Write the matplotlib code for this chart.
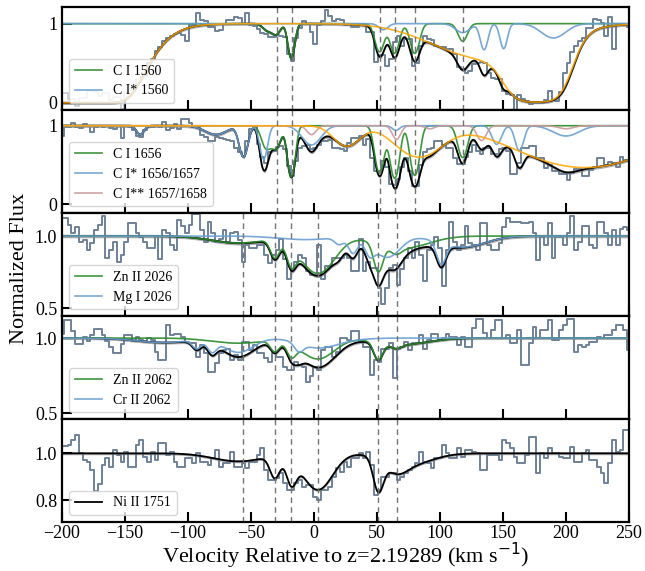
import numpy as np
import matplotlib.pyplot as plt

plt.rcParams['font.family'] = ['Liberation Serif', 'DejaVu Serif']

# velocity grid of the binned spectra (km/s)
v_data = np.arange(-200, 251, 3)

flux_c1560 = [
    0.13, 0.12, 0.05, 0.05, -0.04, 0.06, 0.06, 0.15, 0.15, 0.14,
    0.09, 0.12, 0.12, 0.04, 0.07, 0.07, -0.08, 0.14, 0.16, 0.2,
    0.3, 0.33, 0.35, 0.5, 0.55, 0.66, 0.7, 0.78, 0.82, 0.85,
    0.87, 0.88, 0.86, 0.78, 0.98, 0.98, 1.13, 1.04, 1.03, 0.96,
    0.96, 0.91, 0.92, 1.0, 1.04, 1.05, 1.08, 1.07, 1.0, 1.13,
    0.98, 0.97, 0.93, 0.88, 0.87, 0.83, 0.83, 0.86, 0.84, 0.83,
    0.62, 0.53, 0.82, 0.95, 1.03, 1.0, 0.9, 0.74, 0.98, 1.03,
    1.17, 1.1, 1.03, 1.06, 1.05, 0.98, 1.0, 0.96, 0.96, 0.98,
    0.99, 0.89, 0.89, 0.51, 0.6, 0.6, 0.47, 0.55, 0.77, 0.85,
    0.72, 0.8, 0.8, 0.47, 0.5, 0.72, 0.85, 0.8, 0.79, 0.72,
    0.7, 0.7, 0.68, 0.68, 0.62, 0.45, 0.43, 0.38, 0.4, 0.49,
    0.5, 0.51, 0.5, 0.38, 0.32, 0.3, 0.3, 0.15, 0.11, 0.1,
    -0.09, 0.1, 0.05, 0.02, -0.01, 0.0, 0.0, 0.0, 0.04, 0.15,
    0.03, 0.02, 0.14, 0.38, 0.5, 0.64, 0.72, 0.78, 0.82, 0.94,
    0.94, 1.06, 1.05, 1.01, 0.85, 1.08, 0.68, 0.98, 0.99, 1.0,
    0.96]

flux_c1656 = [
    0.87, 0.98, 0.98, 1.04, 0.98, 0.97, 1.02, 1.0, 0.92, 0.98,
    1.0, 0.99, 1.0, 0.97, 0.96, 1.0, 0.85, 1.0, 0.98, 0.94,
    0.87, 0.86, 0.95, 0.98, 0.98, 1.0, 0.98, 1.05, 0.95, 0.97,
    1.02, 0.96, 1.09, 1.09, 1.04, 0.98, 0.98, 0.88, 0.86, 0.81,
    0.81, 0.86, 0.84, 0.83, 0.82, 0.8, 0.72, 0.66, 0.61, 0.8,
    0.96, 1.0, 0.77, 0.6, 0.53, 0.66, 0.68, 0.73, 0.74, 0.7,
    0.49, 0.36, 0.55, 0.72, 0.74, 0.76, 0.7, 0.72, 0.76, 0.8,
    0.8, 0.82, 0.72, 0.72, 0.7, 0.68, 0.78, 0.85, 0.85, 0.87,
    0.76, 0.83, 0.59, 0.42, 0.42, 0.55, 0.48, 0.26, 0.24, 0.32,
    0.48, 0.59, 0.42, 0.23, 0.23, 0.5, 0.66, 0.7, 0.72, 0.81,
    0.81, 0.76, 0.72, 0.72, 0.59, 0.51, 0.51, 0.6, 0.66, 0.76,
    0.68, 0.64, 0.72, 0.72, 0.64, 0.64, 0.7, 0.72, 0.68, 0.38,
    0.38, 0.53, 0.72, 0.72, 0.74, 0.74, 0.59, 0.59, 0.46, 0.5,
    0.42, 0.42, 0.38, 0.38, 0.31, 0.4, 0.45, 0.45, 0.36, 0.36,
    0.44, 0.48, 0.59, 0.59, 0.5, 0.54, 0.52, 0.48, 0.6, 0.56,
    0.55]

flux_zn2026 = [
    1.125, 1.125, 1.08, 1.02, 1.06, 0.96, 0.975, 0.9, 0.95, 1.04,
    1.08, 1.14, 0.85, 0.9, 0.96, 0.82, 0.87, 0.96, 1.09, 1.09,
    1.02, 0.99, 0.96, 0.92, 0.92, 1.0, 0.84, 1.04, 1.02, 0.94,
    0.905, 1.11, 1.07, 1.02, 1.08, 1.15, 1.15, 1.04, 0.96, 1.1,
    1.02, 0.96, 0.98, 1.04, 0.96, 1.02, 1.03, 0.975, 0.82, 0.94,
    0.92, 0.92, 0.94, 0.94, 0.87, 0.81, 0.87, 0.905, 0.98, 0.84,
    0.7, 0.77, 0.82, 0.87, 0.85, 0.76, 0.73, 0.73, 0.94, 0.7,
    0.79, 0.79, 0.85, 0.85, 0.85, 0.87, 0.85, 0.755, 0.755, 0.98,
    0.76, 0.82, 0.78, 0.78, 0.64, 0.53, 0.64, 0.78, 0.8, 0.66,
    0.77, 0.85, 0.92, 0.85, 0.96, 0.87, 0.685, 0.9, 0.94, 0.99,
    0.92, 0.65, 0.9, 1.1, 0.96, 0.9, 0.94, 1.07, 0.95, 0.94,
    0.9, 1.09, 1.09, 0.94, 0.9, 0.9, 0.95, 1.06, 1.125, 1.1,
    1.1, 1.1, 1.09, 1.09, 1.1, 1.02, 0.836, 0.99, 0.94, 1.09,
    0.85, 0.99, 0.99, 0.94, 1.02, 1.137, 0.9, 0.96, 1.07, 1.07,
    0.94, 0.92, 1.1, 1.1, 1.02, 0.94, 1.04, 0.94, 1.05, 1.06,
    1.04]

flux_zn2062 = [
    1.03, 1.12, 1.12, 1.05, 0.96, 0.96, 1.01, 0.98, 1.02, 1.06,
    1.06, 1.02, 0.98, 0.94, 0.9, 0.9, 0.96, 1.02, 1.02, 0.98,
    1.01, 0.99, 0.98, 1.0, 0.99, 0.91, 0.853, 0.853, 1.087, 1.02,
    1.03, 1.03, 1.01, 0.976, 0.964, 0.964, 0.876, 0.953, 0.9, 0.776,
    0.776, 0.831, 0.898, 0.92, 0.93, 0.853, 0.887, 0.853, 0.976, 0.976,
    0.92, 0.953, 0.898, 0.898, 0.864, 0.842, 0.909, 0.876, 0.876, 0.809,
    0.787, 0.787, 0.842, 0.82, 0.809, 0.709, 0.75, 0.809, 0.787, 0.92,
    0.94, 0.94, 0.876, 0.909, 1.0, 1.0, 0.987, 1.05, 1.05, 0.976,
    0.942, 0.942, 0.753, 0.853, 0.842, 0.93, 0.93, 0.964, 0.731, 0.93,
    0.942, 0.976, 0.92, 0.964, 0.964, 1.02, 0.93, 0.987, 1.03, 1.03,
    0.987, 0.998, 1.03, 1.009, 1.009, 0.953, 1.009, 0.942, 0.942, 1.064,
    1.13, 1.13, 1.031, 0.998, 1.053, 1.12, 1.12, 0.998, 1.02, 0.964,
    0.964, 1.053, 0.82, 0.82, 0.964, 1.075, 0.998, 1.053, 1.053, 1.12,
    0.987, 0.987, 1.053, 1.087, 1.13, 1.13, 0.909, 0.953, 0.942, 0.953,
    0.976, 0.976, 1.009, 0.998, 1.02, 1.02, 1.053, 1.087, 1.087, 1.053,
    0.92]

flux_ni1751 = [
    1.03, 1.03, 1.036, 1.057, 1.08, 1.0, 0.97, 0.964, 0.93, 0.84,
    0.87, 0.95, 0.98, 0.943, 1.014, 0.993, 0.964, 1.007, 0.943, 0.943,
    1.036, 1.057, 0.986, 0.964, 1.007, 0.971, 1.043, 1.043, 0.993, 1.007,
    0.964, 0.943, 0.943, 0.979, 0.979, 0.957, 1.0, 0.964, 0.964, 0.95,
    0.979, 1.014, 0.943, 0.957, 0.957, 1.007, 0.943, 0.943, 0.957, 0.936,
    0.964, 0.964, 0.993, 1.021, 0.929, 0.886, 0.886, 0.893, 0.914, 0.871,
    0.843, 0.843, 0.871, 0.886, 0.857, 0.864, 0.864, 0.814, 0.8, 0.843,
    0.843, 0.857, 0.9, 0.936, 0.921, 0.964, 0.943, 0.979, 0.979, 1.0,
    0.979, 1.007, 0.95, 0.82, 0.843, 0.9, 0.9, 0.914, 0.914, 0.886,
    0.9, 0.914, 0.929, 0.943, 0.957, 1.007, 0.964, 0.957, 0.936, 0.979,
    0.979, 1.036, 1.0, 0.979, 0.979, 1.021, 0.986, 1.014, 1.014, 1.007,
    1.0, 0.93, 0.93, 0.993, 0.993, 0.993, 0.971, 1.057, 1.043, 1.021,
    0.986, 0.957, 0.957, 0.993, 1.07, 1.07, 0.914, 1.0, 0.979, 1.021,
    1.0, 1.0, 0.986, 0.979, 0.979, 1.029, 0.964, 0.964, 1.0, 1.014,
    0.971, 0.971, 0.943, 0.914, 0.871, 0.957, 1.057, 1.007, 1.014, 1.1,
    1.1]

# fitted absorption components: (velocity, b, central optical depth)
ci_1560 = [(-37, 5, 0.09), (-30, 4.5, 0.14), (-18, 3.5, 0.58), (52, 4.8, 0.44),
           (64, 4.8, 0.47), (80, 4.8, 0.47), (118, 5, 0.25)]
cis_1560 = [(55, 5, 0.08), (118, 8, 0.12), (135, 4, 0.4), (150.5, 3.8, 0.38),
            (190, 13, 0.2)]
blend_1560 = [(-390, 81, 20900), (140, 55, 0.6), (177, 20.6, 4.3)]

ci_1656 = [(-38, 5, 0.33), (-30, 5, 0.33), (-18, 3.8, 1.05), (52, 4.6, 0.92),
           (64, 4.6, 1.1), (80, 4.6, 1.0), (118, 5, 0.52)]
cis_1656 = [(-138, 4, 0.12), (-78, 12, 0.12), (-56, 4.5, 0.5), (-40, 4, 0.55),
            (-2, 10, 0.28), (65, 4, 0.06), (145, 5, 0.27), (163, 4.5, 0.38),
            (200, 14, 0.14)]
ciss_1656 = [(-2, 5, 0.12), (65.5, 4.5, 0.19), (92, 5, 0.04), (133, 5, 0.21),
             (200, 8, 0.04)]
blend_1656 = [(26, 14, 0.3), (83, 24, 0.5), (215, 64, 0.76)]

zn_2026 = [(-60, 30, 0.05), (-31, 5, 0.14), (-18, 5, 0.17), (3, 18, 0.3),
           (51, 5, 0.23), (65, 6, 0.05), (70, 28, 0.09)]
mg_2026 = [(-7, 30, 0.025), (20, 5, 0.05), (31, 5, 0.12), (44, 5, 0.1),
           (58, 14, 0.16), (101, 5, 0.17), (118, 25, 0.08)]

zn_2062 = [(-60, 30, 0.035), (-31, 5, 0.08), (-18, 5, 0.1), (3, 18, 0.15),
           (51, 5, 0.13), (65, 6, 0.03), (70, 28, 0.045)]
cr_2062 = [(-120, 30, 0.03), (-93, 5, 0.06), (-81, 5, 0.08), (-60, 16, 0.1),
           (-12, 5, 0.06), (3, 18, 0.04), (8, 28, 0.03)]

ni_1751 = [(-60, 28, 0.035), (-31, 5.5, 0.1), (-18, 5.5, 0.12), (3, 16, 0.17),
           (51, 5.5, 0.15), (65, 12, 0.05), (75, 25, 0.05)]

comp_lines_ci = [-29.6, -17.2, 52.4, 64.3, 80.2, 118.5]
comp_lines_metal = [-56.6, -31, -18.5, 3.4, 51, 65.6]

GREEN = '#2a8a2a'
BLUE = '#6a9fd0'
ROSY = '#c99a9a'
ORANGE = '#ffa500'
DATA = '#6f8296'

v = np.linspace(-200, 250, 2251)


def profile(comps):
    tau = np.zeros_like(v)
    for vc, b, t in comps:
        tau += t * np.exp(-((v - vc) / b) ** 2)
    return np.exp(-tau)


panels = [
    dict(flux=flux_c1560, ions=[(ci_1560, GREEN, 'C I 1560'), (cis_1560, BLUE, 'C I* 1560')],
         blend=blend_1560, lines=comp_lines_ci, ylim=(-0.09, 1.21), yticks=[0, 1],
         ylabels=['0', '1'], band=0.02),
    dict(flux=flux_c1656, ions=[(ci_1656, GREEN, 'C I 1656'), (cis_1656, BLUE, 'C I* 1656/1657'),
                                (ciss_1656, ROSY, 'C I** 1657/1658')],
         blend=blend_1656, lines=comp_lines_ci, ylim=(-0.11, 1.2), yticks=[0, 1],
         ylabels=['0', '1'], band=0.022),
    dict(flux=flux_zn2026, ions=[(zn_2026, GREEN, 'Zn II 2026'), (mg_2026, BLUE, 'Mg I 2026')],
         blend=None, lines=comp_lines_metal, ylim=(0.445, 1.16), yticks=[0.5, 1.0],
         ylabels=['0.5', '1.0'], band=0.012),
    dict(flux=flux_zn2062, ions=[(zn_2062, GREEN, 'Zn II 2062'), (cr_2062, BLUE, 'Cr II 2062')],
         blend=None, lines=comp_lines_metal, ylim=(0.46, 1.147), yticks=[0.5, 1.0],
         ylabels=['0.5', '1.0'], band=0.01),
    dict(flux=flux_ni1751, ions=[(ni_1751, 'black', 'Ni II 1751')],
         blend=None, lines=comp_lines_metal, ylim=(0.706, 1.147), yticks=[0.8, 1.0],
         ylabels=['0.8', '1.0'], band=0.006),
]

fig, axes = plt.subplots(5, 1, figsize=(6.45, 5.71), dpi=100, sharex=True)
fig.subplots_adjust(left=62 / 645, right=629 / 645, top=1 - 7 / 571,
                    bottom=1 - 522 / 571, hspace=0)

for ax, p in zip(axes, panels):
    flux = np.array(p['flux'])
    if p is panels[0]:
        # masked stretch of the C I 1560 spectrum is drawn faintly
        pale = v_data <= -139
        ax.step(v_data[pale], flux[pale], where='mid', color=DATA, lw=1.3, alpha=0.4)
        ax.step(v_data[~pale], flux[~pale], where='mid', color=DATA, lw=1.4)
    else:
        ax.step(v_data, flux, where='mid', color=DATA, lw=1.4)

    total = np.ones_like(v)
    curves = []
    for comps, col, lab in p['ions']:
        prof = profile(comps)
        total *= prof
        curves.append((prof, col, lab))
    if p['blend'] is not None:
        blend = profile(p['blend'])
        total *= blend

    ax.fill_between(v, total - p['band'], total + p['band'], color='0.45', alpha=0.6, lw=0)
    ax.plot(v, total, color='black', lw=1.3)

    handles = []
    if len(curves) == 1:
        h, = ax.plot([], [], color='black', lw=1.3, label=curves[0][2])
        handles.append(h)
    else:
        for prof, col, lab in curves:
            h, = ax.plot(v, prof, color=col, lw=1.2, alpha=0.9, label=lab)
            handles.append(h)
    if p['blend'] is not None:
        ax.plot(v, blend, color=ORANGE, lw=1.2, alpha=0.85)

    for lv in p['lines']:
        ax.axvline(lv, color='0.45', ls=(0, (4, 3)), lw=1.0)

    ax.set_ylim(*p['ylim'])
    ax.set_yticks(p['yticks'])
    ax.set_yticklabels(p['ylabels'])
    ax.legend(handles=handles, loc='lower left', fontsize=10)

    ax.tick_params(direction='in', length=7, width=1.5, labelsize=13,
                   top=False, right=False)
    ax.tick_params(axis='x', pad=2)
    for s in ax.spines.values():
        s.set_linewidth(1.6)

axes[-1].set_xlim(-200, 250)
axes[-1].set_xticks(np.arange(-200, 251, 50))
axes[-1].set_xlabel(r'Velocity Relative to z=2.19289 (km s$^{-1}$)', fontsize=16,
                    labelpad=-1)
fig.text(0.03, 0.53, 'Normalized Flux', rotation=90, fontsize=16,
         ha='center', va='center')

fig.savefig('out.png', dpi=100)
